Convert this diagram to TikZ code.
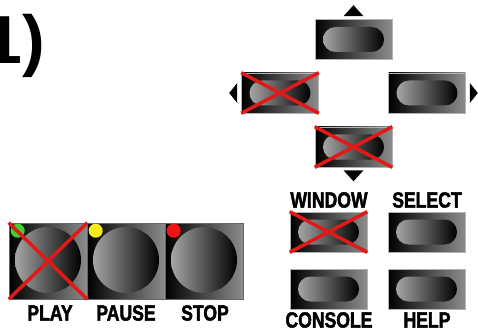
\documentclass[tikz,border=0pt]{standalone}
\usepackage{fontspec}
\newfontfamily\labfont{Liberation Sans}[FakeStretch=0.8,FakeBold=2]
\newfontfamily\numfont{Liberation Sans}
\definecolor{xred}{RGB}{225,25,25}
\definecolor{ledgreen}{RGB}{60,210,50}
\definecolor{ledyellow}{RGB}{245,235,30}
\definecolor{ledred}{RGB}{240,20,20}
\tikzset{
  smallbtn/.style={rectangle, minimum width=77pt, minimum height=40pt, inner sep=0pt,
    left color=black, right color=black!45, draw=black!30, line width=0.6pt},
  pill/.style={rectangle, minimum width=61pt, minimum height=25pt, inner sep=0pt,
    rounded corners=12.5pt, left color=black!35, right color=black},
  bigbtn/.style={rectangle, minimum width=78pt, minimum height=76pt, inner sep=0pt,
    left color=black, right color=black!45, draw=black!60, line width=0.6pt},
  knob/.style={circle, minimum size=66pt, inner sep=0pt, left color=black!35, right color=black},
  led/.style={circle, minimum size=14pt, inner sep=0pt},
  lab/.style={inner sep=0pt, font=\labfont\bfseries\fontsize{22}{22}\selectfont},
  cross/.style={draw=xred, line width=3.5pt},
  tri/.style={fill=black}
}
\begin{document}
\begin{tikzpicture}[x=1pt,y=-1pt]
\useasboundingbox (0,0) rectangle (478,331);
% title
\node[inner sep=0pt, anchor=base east, font=\numfont\bfseries\fontsize{68}{68}\selectfont] (title) at (45,64) {1)};
% direction buttons
\node[smallbtn] (up) at (353.5,39.5) {};
\node[smallbtn] (left) at (280,93) {};
\node[smallbtn] (right) at (427,93) {};
\node[smallbtn] (down) at (353.5,147) {};
% menu buttons
\node[smallbtn] (window) at (328.5,232) {};
\node[smallbtn] (select) at (426.5,232) {};
\node[smallbtn] (console) at (328.5,289) {};
\node[smallbtn] (help) at (426.5,289) {};
\foreach \b in {up,left,right,down,window,select,console,help}{
  \node[pill] (\b-pill) at (\b) {};
}
% arrows
\fill[tri] ([yshift=14pt]up.north) -- ([xshift=-10pt,yshift=3pt]up.north) -- ([xshift=10pt,yshift=3pt]up.north) -- cycle;
\fill[tri] ([xshift=-12pt]left.west) -- ([xshift=-4pt,yshift=-10pt]left.west) -- ([xshift=-4pt,yshift=10pt]left.west) -- cycle;
\fill[tri] ([xshift=12pt]right.east) -- ([xshift=4pt,yshift=-10pt]right.east) -- ([xshift=4pt,yshift=10pt]right.east) -- cycle;
\fill[tri] ([yshift=-14pt]down.south) -- ([xshift=-10pt,yshift=-3pt]down.south) -- ([xshift=10pt,yshift=-3pt]down.south) -- cycle;
% big buttons
\node[bigbtn] (play) at (48,261) {};
\node[bigbtn] (pause) at (126,261) {};
\node[bigbtn] (stop) at (204,261) {};
\foreach \b in {play,pause,stop}{
  \node[knob] (\b-knob) at ([yshift=1pt]\b) {};
}
\node[led, fill=ledgreen] (play-led) at ([xshift=9pt,yshift=-8pt]play.north west) {};
\node[led, fill=ledyellow] (pause-led) at ([xshift=9pt,yshift=-8pt]pause.north west) {};
\node[led, fill=ledred] (stop-led) at ([xshift=9pt,yshift=-8pt]stop.north west) {};
% labels
\node[lab] (lplay) at (50,313) {PLAY};
\node[lab] (lpause) at (126,313) {PAUSE};
\node[lab] (lstop) at (205,313) {STOP};
\node[lab] (lwindow) at (329,200) {WINDOW};
\node[lab] (lselect) at (427,200) {SELECT};
\node[lab] (lconsole) at (329,320) {CONSOLE};
\node[lab] (lhelp) at (427,320) {HELP};
% crosses
\foreach \b in {play,left,down,window}{
  \draw[cross] (\b.north west) -- (\b.south east);
  \draw[cross] (\b.north east) -- (\b.south west);
}
\end{tikzpicture}
\end{document}
